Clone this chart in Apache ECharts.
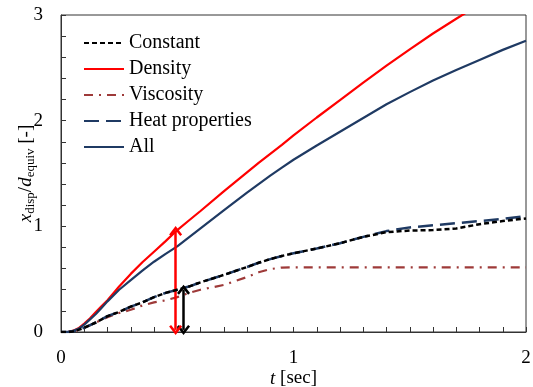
<!DOCTYPE html>
<html>
<head>
<meta charset="utf-8">
<script src="https://cdn.jsdelivr.net/npm/echarts@6/dist/echarts.min.js"></script>
<style>html,body{margin:0;padding:0;background:#fff;}#c{width:533px;height:387px;}</style>
</head>
<body>
<div id="c"></div>
<script>
var seriesNames = ['Constant', 'Density', 'Viscosity', 'Heat properties', 'All'];
var time = [0, 0.03, 0.05, 0.075, 0.1, 0.125, 0.15, 0.175, 0.2, 0.25, 0.3, 0.35, 0.4, 0.45, 0.5, 0.55, 0.6, 0.7, 0.8, 0.85, 0.9, 0.95, 1.0, 1.1, 1.2, 1.3, 1.4, 1.5, 1.6, 1.7, 1.8, 1.9, 2.0];
var constant = [0, 0, 0.005, 0.02, 0.04, 0.065, 0.09, 0.12, 0.15, 0.19, 0.24, 0.28, 0.33, 0.37, 0.40, 0.43, 0.47, 0.54, 0.615, 0.655, 0.69, 0.72, 0.745, 0.79, 0.84, 0.90, 0.945, 0.96, 0.965, 0.98, 1.02, 1.05, 1.075];
var density = [0, 0, 0.01, 0.035, 0.08, 0.13, 0.19, 0.245, 0.30, 0.43, 0.55, 0.66, 0.76, 0.86, 0.965, 1.055, 1.145, 1.33, 1.51, 1.60, 1.685, 1.77, 1.86, 2.03, 2.195, 2.36, 2.52, 2.675, 2.825, 2.965, 3.1, 3.2, 3.3];
var viscosity = [0, 0, 0.005, 0.02, 0.04, 0.065, 0.09, 0.115, 0.14, 0.18, 0.21, 0.25, 0.28, 0.30, 0.33, 0.37, 0.40, 0.445, 0.52, 0.565, 0.595, 0.61, 0.612, 0.612, 0.612, 0.612, 0.612, 0.612, 0.612, 0.612, 0.612, 0.612, 0.612];
var heat = [0, 0, 0.005, 0.02, 0.04, 0.065, 0.09, 0.12, 0.15, 0.19, 0.24, 0.28, 0.33, 0.37, 0.40, 0.43, 0.47, 0.54, 0.615, 0.655, 0.69, 0.72, 0.745, 0.79, 0.84, 0.90, 0.955, 0.99, 1.01, 1.03, 1.05, 1.07, 1.097];
var all = [0, 0, 0.01, 0.03, 0.07, 0.12, 0.17, 0.23, 0.29, 0.40, 0.49, 0.58, 0.665, 0.74, 0.81, 0.895, 0.98, 1.15, 1.32, 1.40, 1.48, 1.555, 1.63, 1.765, 1.895, 2.025, 2.155, 2.27, 2.38, 2.48, 2.575, 2.67, 2.756];
var redArrow = {t: 0.493, from: 0.02, to: 0.955};
var blackArrow = {t: 0.527, from: 0.02, to: 0.40};
var xTicks = ['0', '1', '2'];
var yTicks = ['0', '1', '2', '3'];

function pairs(v) { return time.map(function (t, i) { return [t, v[i]]; }); }
var FONT = 'Liberation Serif';
var chev = 'path://M0,10 L10,0 L20,10 L17,12 L10,5 L3,12 Z';
function arrow(a, color) {
  return {
    silent: true, symbol: [chev, chev], symbolSize: [13, 10],
    label: {show: false}, emphasis: {disabled: true},
    lineStyle: {color: color, width: 2.5, type: 'solid'},
    data: [[{coord: [a.t, a.from]}, {coord: [a.t, a.to]}]]
  };
}
var common = {type: 'line', symbol: 'none', showSymbol: false};
function mk(o) { return Object.assign({}, common, o); }
var chart = echarts.init(document.getElementById('c'));
chart.setOption({
  animation: false,
  backgroundColor: '#fff',
  grid: {left: 61, right: 7, top: 15, bottom: 55, show: true, borderColor: '#333', borderWidth: 1, containLabel: false, outerBoundsMode: 'none'},
  legend: {
    orient: 'vertical', left: 78, top: 28, itemWidth: 40, itemHeight: 14, itemGap: 6,
    itemStyle: {opacity: 0},
    textStyle: {fontFamily: FONT, fontSize: 20, color: '#000', lineHeight: 20},
    data: seriesNames
  },
  xAxis: {
    type: 'value', min: 0, max: 2, interval: 1,
    name: '{i|t} [sec]', nameLocation: 'middle', nameGap: 37, nameMoveOverlap: false,
    nameTextStyle: {fontFamily: FONT, fontSize: 19, color: '#000', rich: {i: {fontStyle: 'italic', fontFamily: FONT, fontSize: 19}}},
    axisLine: {lineStyle: {color: '#333', width: 1}},
    axisTick: {inside: true, length: 5, lineStyle: {color: '#333'}},
    minorTick: {show: true, splitNumber: 10, length: 5, lineStyle: {color: '#333'}},
    splitLine: {show: false},
    axisLabel: {fontFamily: FONT, fontSize: 19, color: '#000', margin: 17, formatter: function (v) { return xTicks[Math.round(v)]; }}
  },
  yAxis: {
    type: 'value', min: 0, max: 3, interval: 1,
    name: '{i|x}{s|disp}/{i|d}{s|equiv} [-]', nameLocation: 'middle', nameGap: 24, nameMoveOverlap: false,
    nameTextStyle: {fontFamily: FONT, fontSize: 19, color: '#000',
      rich: {i: {fontStyle: 'italic', fontFamily: FONT, fontSize: 19, color: '#000'},
             s: {fontFamily: FONT, fontSize: 13, color: '#000', padding: [9, 0, 0, 0]}}},
    axisLine: {show: true, lineStyle: {color: '#333', width: 1}},
    axisTick: {show: true, inside: true, length: 5, lineStyle: {color: '#333'}},
    minorTick: {show: true, splitNumber: 5, length: 5, lineStyle: {color: '#333'}},
    splitLine: {show: false},
    axisLabel: {fontFamily: FONT, fontSize: 19, color: '#000', margin: 18, formatter: function (v) { return yTicks[Math.round(v)]; }}
  },
  series: [
    mk({name: 'Constant', data: pairs(constant), z: 5,
      lineStyle: {color: '#000', width: 2.5, type: [5, 3]}, itemStyle: {color: '#000'}, markLine: arrow(blackArrow, '#000')}),
    mk({name: 'Density', data: pairs(density),
      lineStyle: {color: '#ff0000', width: 2.2}, itemStyle: {color: '#ff0000'}, markLine: arrow(redArrow, '#ff0000')}),
    mk({name: 'Viscosity', data: pairs(viscosity),
      lineStyle: {color: '#9e3a39', width: 2.2, type: [9, 6, 2, 6]}, itemStyle: {color: '#9e3a39'}}),
    mk({name: 'Heat properties', data: pairs(heat), z: 4,
      lineStyle: {color: '#1f3a63', width: 2.5, type: [15, 7]}, itemStyle: {color: '#1f3a63'}}),
    mk({name: 'All', data: pairs(all),
      lineStyle: {color: '#1f3a63', width: 2.2}, itemStyle: {color: '#1f3a63'}})
  ]
});
</script>
</body>
</html>
